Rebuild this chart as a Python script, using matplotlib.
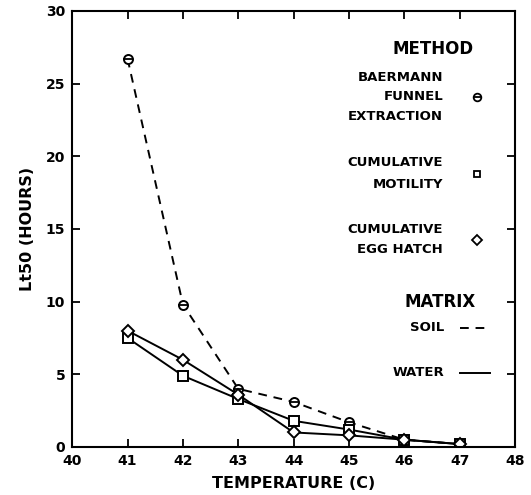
import numpy as np
import matplotlib
matplotlib.use("Agg")
import matplotlib.pyplot as plt

# temperatures (C) and LT50 (hours)
temperature = [41, 42, 43, 44, 45, 46, 47]
baermann_soil = [26.7, 9.8, 4.0, 3.1, 1.7, 0.5, 0.2]
motility_water = [7.5, 4.9, 3.3, 1.8, 1.2, 0.5, 0.2]
egghatch_water = [8.0, 6.0, 3.6, 1.0, 0.8, 0.5, 0.2]

xticks = [40, 41, 42, 43, 44, 45, 46, 47, 48]
yticks = [0, 5, 10, 15, 20, 25, 30]

plt.rcParams['font.family'] = ['DejaVu Sans', 'DejaVu Sans Mono']
plt.rcParams['font.weight'] = 'bold'
plt.rcParams['axes.labelweight'] = 'bold'

fig = plt.figure(figsize=(5.31, 4.95), dpi=100)
ax = fig.add_axes([0.136, 0.097, 0.834, 0.881])

lw = 1.4
mk = dict(markersize=6.5, markerfacecolor='white', markeredgecolor='black', markeredgewidth=1.4)

# Baermann funnel (soil, dashed) with circle-bar markers
ax.plot(temperature, baermann_soil, color='black', linestyle=(0, (4.5, 3.5)), linewidth=lw,
        marker='o', **mk)
ax.plot(temperature, baermann_soil, linestyle='none', marker='_', color='black',
        markersize=6.5, markeredgewidth=1.3)
ax.plot(temperature, motility_water, color='black', linewidth=lw, marker='s', **mk)
ax.plot(temperature, egghatch_water, color='black', linewidth=lw, marker='D',
        markersize=6, markerfacecolor='white', markeredgecolor='black', markeredgewidth=1.4)

ax.set_xlim(40, 48)
ax.set_ylim(0, 30)
ax.set_xticks(xticks)
ax.set_yticks(yticks)
ax.tick_params(direction='in', length=6, width=1.3, top=True, right=True,
               labelsize=10, pad=5)
for s in ax.spines.values():
    s.set_linewidth(1.5)

ax.set_xlabel('TEMPERATURE (C)', fontsize=11.5, labelpad=6)
ax.set_ylabel('Lt50 (HOURS)', fontsize=11.5, labelpad=8)


def fx(px):
    return (px - 72) / 443.0


def fy(py):
    return (447 - py) / 436.0


tr = ax.transAxes
ax.text(fx(474), fy(49), 'METHOD', transform=tr, ha='right', va='center', fontsize=12)
for txt, py in [('BAERMANN', 78), ('FUNNEL', 97), ('EXTRACTION', 117),
                ('CUMULATIVE', 163), ('MOTILITY', 185),
                ('CUMULATIVE', 230), ('EGG HATCH', 250)]:
    ax.text(fx(443), fy(py), txt, transform=tr, ha='right', va='center', fontsize=9.5)

ax.plot([fx(477)], [fy(97)], transform=tr, marker='o', markersize=5.5, markerfacecolor='white',
        markeredgecolor='black', markeredgewidth=1.3, clip_on=False)
ax.plot([fx(477)], [fy(97)], transform=tr, marker='_', markersize=5.5, color='black',
        markeredgewidth=1.3, clip_on=False)
ax.plot([fx(477)], [fy(174)], transform=tr, marker='s', markersize=5, markerfacecolor='white',
        markeredgecolor='black', markeredgewidth=1.3, clip_on=False)
ax.plot([fx(477)], [fy(240)], transform=tr, marker='D', markersize=5, markerfacecolor='white',
        markeredgecolor='black', markeredgewidth=1.3, clip_on=False)

ax.text(fx(476), fy(302), 'MATRIX', transform=tr, ha='right', va='center', fontsize=12)
ax.text(fx(444), fy(328), 'SOIL', transform=tr, ha='right', va='center', fontsize=9.5)
ax.text(fx(444), fy(373), 'WATER', transform=tr, ha='right', va='center', fontsize=9.5)
ax.plot([fx(460), fx(490)], [fy(328), fy(328)], transform=tr, color='black',
        linestyle=(0, (4.5, 3.5)), linewidth=lw)
ax.plot([fx(460), fx(490)], [fy(373), fy(373)], transform=tr, color='black', linewidth=lw)

fig.savefig('out.png', dpi=100)
